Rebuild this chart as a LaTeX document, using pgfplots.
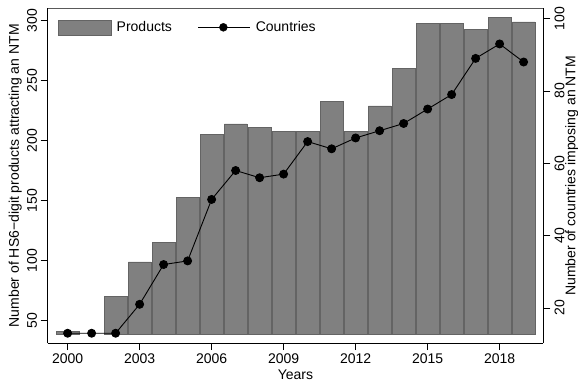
\documentclass[border=0pt]{standalone}
\usepackage{fontspec}
\setmainfont{Liberation Sans}
\usepackage{pgfplots}
\pgfplotsset{compat=1.18}
\usepackage{pgfplotstable}
\definecolor{barfill}{RGB}{128,128,128}
\definecolor{baredge}{RGB}{100,100,100}
\newcommand\fsz{\fontsize{14bp}{16bp}\selectfont}

\pgfplotstableread{
year products countries
2000 41 13
2001 39 13
2002 70 13
2003 99 21
2004 115 32
2005 153 33
2006 205 50
2007 214 58
2008 211 56
2009 208 57
2010 208 66
2011 233 64
2012 208 67
2013 229 69
2014 260 71
2015 298 75
2016 298 79
2017 293 89
2018 303 93
2019 299 88
}\datatable

\pgfplotsset{common/.style={
  scale only axis, width=495.6bp, height=334.5bp,
  xmin=1999.17, xmax=2019.82,
  tick align=outside, major tick length=7bp,
  tick style={black, line width=0.6bp},
  axis line style={-, line width=0.8bp},
  /pgf/number format/assume math mode=true,
  tick label style={font=\fsz},
  label style={font=\fsz},
}}

\begin{document}
\begin{tikzpicture}
\begin{axis}[common, name=ax,
  axis x line*=bottom, axis y line*=left,
  ymin=31.4, ymax=310.2,
  ytick={50,100,...,300},
  yticklabel style={rotate=90, anchor=south, inner sep=3.5bp},
  xtick={2000,2003,...,2018},
  xticklabel style={/pgf/number format/1000 sep={}},
  ylabel={Number of HS6−digit products attracting an NTM},
  every axis y label/.style={at={(rel axis cs:0,0.5)}, xshift=-32.4bp, rotate=90, anchor=center, font=\fsz},
  xlabel={Years},
  ybar stacked, bar width=0.94,
  legend style={draw=none, fill=none, at={(0,1)}, anchor=north west,
    xshift=10.3bp, yshift=-10.8bp, inner sep=0pt,
    legend columns=2, font=\fsz,
    /tikz/every odd column/.append style={column sep=3bp},
    /tikz/every even column/.append style={column sep=24bp}},
]
\addplot[draw=none, fill=none, forget plot] table[x=year, y expr=39] \datatable;
\addplot[fill=barfill, draw=baredge, line width=0.5bp,
  legend image code/.code={\draw[fill=barfill,draw=baredge,line width=0.5bp] (0bp,-7.5bp) rectangle (53bp,7.5bp);}]
  table[x=year, y expr=\thisrow{products}-39] \datatable;
\addlegendentry{Products}
\addlegendimage{legend image code/.code={\draw[black, line width=0.9bp] (0bp,0bp) -- (52bp,0bp); \fill[black] (25bp,0bp) circle (4bp);}}
\addlegendentry{Countries}
\end{axis}
\begin{axis}[common,
  axis x line*=top, axis y line*=right,
  xtick=\empty,
  ymin=10.3, ymax=102.8,
  ytick={20,40,...,100},
  yticklabel style={rotate=90, anchor=north, inner sep=4bp},
  ylabel={Number of countries imposing an NTM},
  every axis y label/.style={at={(rel axis cs:1,0.5)}, xshift=28.5bp, rotate=90, anchor=center, font=\fsz},
  x axis line style={gray!70!black},
]
\addplot[black, line width=0.9bp, mark=*, mark size=4bp] table[x=year, y=countries] \datatable;
\end{axis}
\pgfresetboundingbox
\path (ax.south west) ++(-47.7bp,-40bp) rectangle ++(578bp,383bp);
\end{tikzpicture}
\end{document}
